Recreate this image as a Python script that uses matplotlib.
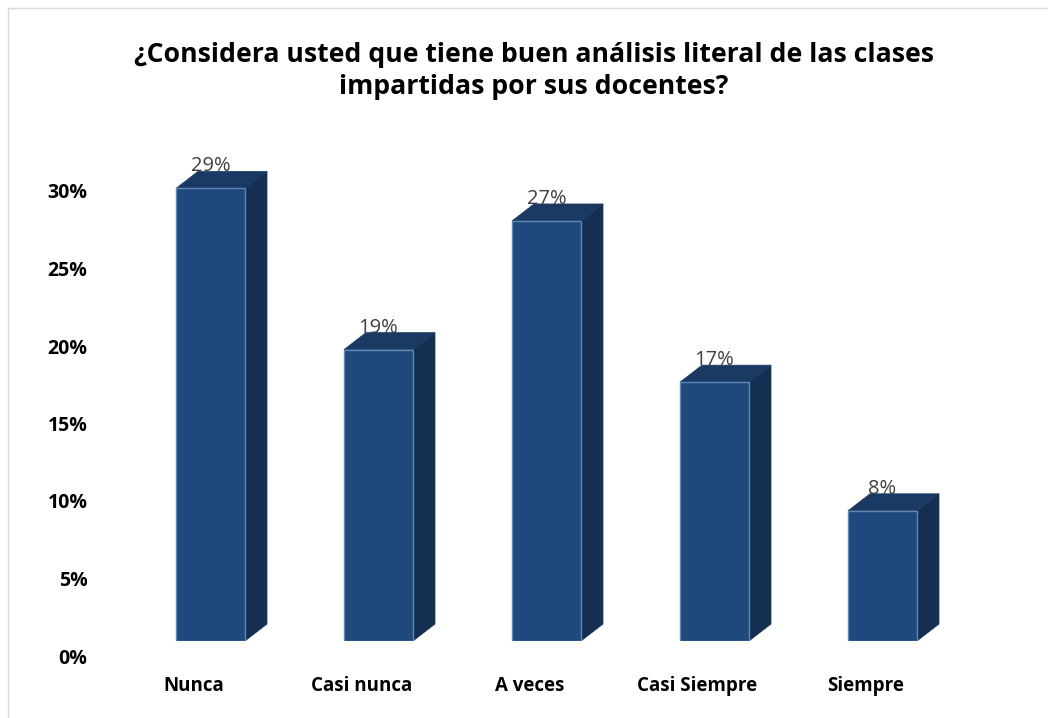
import matplotlib
matplotlib.use("Agg")
import matplotlib.pyplot as plt
from matplotlib.patches import Polygon
from matplotlib.transforms import ScaledTranslation
from matplotlib.lines import Line2D

title = "¿Considera usted que tiene buen análisis literal de las clases\nimpartidas por sus docentes?"
categories = ["Nunca", "Casi nunca", "A veces", "Casi Siempre", "Siempre"]
values = [29.2, 18.8, 27.1, 16.7, 8.4]
value_labels = ["29%", "19%", "27%", "17%", "8%"]
yticks = [0, 5, 10, 15, 20, 25, 30]

W, H = 1048, 718
FRONT, TOP, SIDE, EDGE = "#1F497D", "#1B3A63", "#152F52", "#5F86B8"
plt.rcParams["font.family"] = ["Open Sans", "DejaVu Sans"]

fig = plt.figure(figsize=(W / 100, H / 100), dpi=100, facecolor="white")
ax = fig.add_axes([126.5 / W, (H - 641) / H, 840 / W, 511.5 / H])
ax.set_xlim(-0.5, 4.5)
ax.set_ylim(0, 33)
ax.patch.set_visible(False)
for s in ax.spines.values():
    s.set_visible(False)

bw = 69 / 168
dx = 22 / 168
dy = 17 / 15.5
for i, v in enumerate(values):
    l, r = i - bw / 2, i + bw / 2
    ax.add_patch(Polygon([(r, 0), (r + dx, dy), (r + dx, v + dy), (r, v)], fc=SIDE, ec=SIDE, lw=0.5, zorder=2))
    ax.add_patch(Polygon([(l, v), (r, v), (r + dx, v + dy), (l + dx, v + dy)], fc=TOP, ec=TOP, lw=0.5, zorder=2))
    ax.bar(i, v, width=bw, color=FRONT, edgecolor=EDGE, linewidth=1, zorder=3)
    ax.annotate(value_labels[i], (i, v), xytext=(0, 22), textcoords="offset pixels", ha="center", va="center",
                fontsize=14.5, color="#404040", zorder=5)

ax.set_xticks(range(5), categories, fontsize=13.5, fontweight="bold", color="#000000")
ax.set_yticks(yticks, [f"{t}%" for t in yticks], fontsize=14, fontweight="bold", color="#000000")
ax.tick_params(length=0, axis="x", pad=25)
ax.tick_params(length=0, axis="y", pad=28)
yoff = ScaledTranslation(0, -15 / 100, fig.dpi_scale_trans)
for t in ax.get_yticklabels():
    t.set_transform(t.get_transform() + yoff)
xoff = ScaledTranslation(-17 / 100, 0, fig.dpi_scale_trans)
for t in ax.get_xticklabels():
    t.set_transform(t.get_transform() + xoff)

fig.text(534 / W, (H - 71) / H, title, ha="center", va="center", fontsize=19.2, fontweight="bold",
         color="#000000", linespacing=1.25)

fig.add_artist(Line2D([7.5 / W, 1], [1 - 7.5 / H, 1 - 7.5 / H], color="#D9D9D9", lw=1))
fig.add_artist(Line2D([7.5 / W, 7.5 / W], [0, 1 - 7.5 / H], color="#D9D9D9", lw=1))

fig.savefig("out.png", dpi=100, facecolor="white")
